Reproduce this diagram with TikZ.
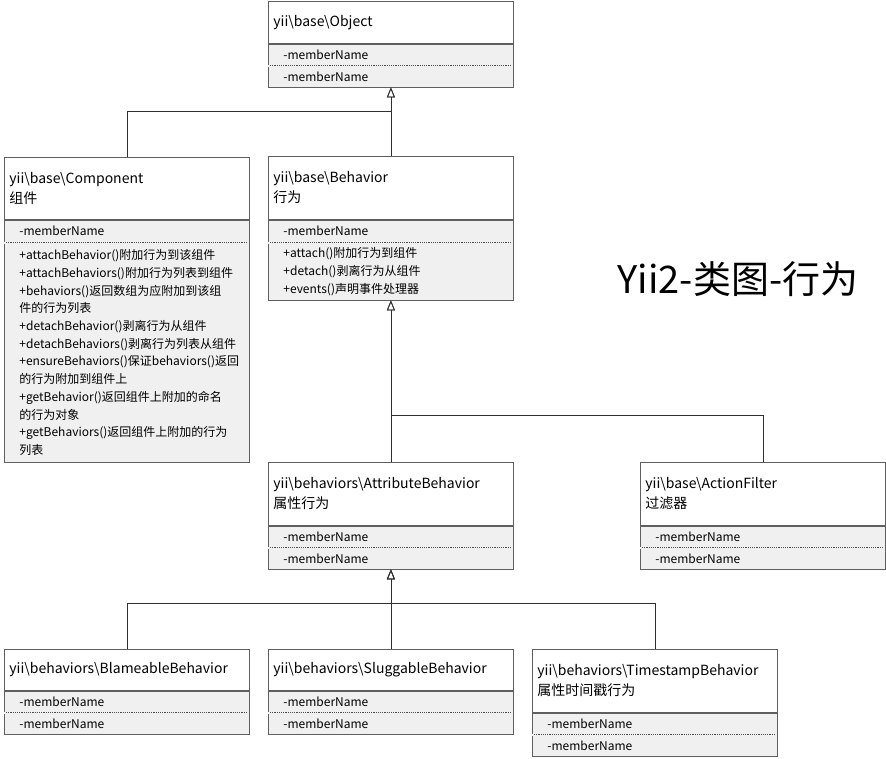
\documentclass[tikz,border=0pt]{standalone}
\usepackage{fontspec}
\setmainfont{Noto Sans CJK SC}
\usepackage{xcolor}
\usepackage{tikz}
\usetikzlibrary{calc,arrows.meta}
\definecolor{umlBorder}{HTML}{5F5F5F}
\definecolor{umlFill}{HTML}{F0F0F0}
\definecolor{umlLine}{HTML}{303030}
\newcommand{\yiiSep}{\textbackslash}
\newcommand{\member}{-memberName}
\tikzset{
	classhead/.style={draw=umlBorder, line width=.8pt, fill=white, minimum width=245pt, text width=235pt, inner xsep=5pt, inner ysep=0pt, align=left, font=\fontsize{14}{20}\selectfont},
	classattr/.style={draw=umlBorder, line width=.8pt, fill=umlFill, minimum width=245pt, minimum height=21pt, text width=215pt, inner xsep=15pt, inner ysep=0pt, align=left, font=\fontsize{12}{17.7}\selectfont},
	sepline/.style={draw=umlBorder!80!black, line width=.7pt, dash pattern=on 1.2pt off 1pt},
	inherit/.style={draw=umlLine, line width=.8pt, -{Triangle[open, width=8pt, length=10pt]}},
	titletext/.style={font=\fontsize{38}{42}\selectfont}
}

\begin{document}
\begin{tikzpicture}[x=1pt, y=-1pt]
	\useasboundingbox (0,0) rectangle (886,758);
	% classes with two plain members
	\foreach \clsName/\xCoord/\yCoord/\headH/\headText in {object/268/1/42/{yii\yiiSep{}base\yiiSep{}Object}, attribute/268/462/63/{yii\yiiSep{}behaviors\yiiSep{}AttributeBehavior\\属性行为}, filter/640/462/63/{yii\yiiSep{}base\yiiSep{}ActionFilter\\过滤器}, blameable/4/649/41/{yii\yiiSep{}behaviors\yiiSep{}BlameableBehavior}, sluggable/268/649/41/{yii\yiiSep{}behaviors\yiiSep{}SluggableBehavior}, timestamp/532/649/63/{yii\yiiSep{}behaviors\yiiSep{}TimestampBehavior\\属性时间戳行为}}
	{
		\node[classhead, minimum height=\headH pt, anchor=north west] (\clsName) at (\xCoord,\yCoord) {\headText};
		\node[classattr, anchor=north west] (\clsName-a) at (\clsName.south west) {\member};
		\node[classattr, anchor=north west] (\clsName-b) at (\clsName-a.south west) {\member};
		\fill[umlFill] ([xshift=.4pt, yshift=-1pt]\clsName-a.south west) rectangle ([xshift=-.4pt, yshift=1pt]\clsName-a.south east);
		\draw[sepline] ([xshift=2pt]\clsName-a.south west) -- ([xshift=-2pt]\clsName-a.south east);
	}
	% classes with operations
	\node[classhead, minimum height=62pt, anchor=north west] (component) at (4,157) {yii\yiiSep{}base\yiiSep{}Component\\组件};
	\node[classattr, minimum height=22pt, anchor=north west] (component-a) at (component.south west) {\member};
	\node[classattr, minimum height=219pt, anchor=north west] (component-o) at (component-a.south west) {+attachBehavior()附加行为到该组件\\+attachBehaviors()附加行为列表到组件\\+behaviors()返回数组为应附加到该组\\件的行为列表\\+detachBehavior()剥离行为从组件\\+detachBehaviors()剥离行为列表从组件\\+ensureBehaviors()保证behaviors()返回\\的行为附加到组件上\\+getBehavior()返回组件上附加的命名\\的行为对象\\+getBehaviors()返回组件上附加的行为\\列表};
	\node[classhead, minimum height=63pt, anchor=north west] (behavior) at (268,156) {yii\yiiSep{}base\yiiSep{}Behavior\\行为};
	\node[classattr, minimum height=22pt, anchor=north west] (behavior-a) at (behavior.south west) {\member};
	\node[classattr, minimum height=57pt, anchor=north west] (behavior-o) at (behavior-a.south west) {+attach()附加行为到组件\\+detach()剥离行为从组件\\+events()声明事件处理器};
	\foreach \clsName in {component, behavior}
	{
		\fill[umlFill] ([xshift=.4pt, yshift=-1pt]\clsName-a.south west) rectangle ([xshift=-.4pt, yshift=1pt]\clsName-a.south east);
		\draw[sepline] ([xshift=2pt]\clsName-a.south west) -- ([xshift=-2pt]\clsName-a.south east);
	}
	\node[titletext] (title) at (738,279) {Yii2-类图-行为};
	% inheritance
	\coordinate (objJoin) at ([yshift=-24pt]object-b.south);
	\coordinate (behJoin) at ([yshift=-115pt]behavior-o.south);
	\coordinate (attJoin) at ([yshift=-34pt]attribute-b.south);
	\draw[inherit] (component.north) |- (objJoin) -- (object-b.south);
	\draw[inherit] (behavior.north) -- (object-b.south);
	\draw[inherit] (filter.north) |- (behJoin) -- (behavior-o.south);
	\draw[inherit] (attribute.north) -- (behavior-o.south);
	\draw[inherit] (blameable.north) |- (attJoin) -- (attribute-b.south);
	\draw[inherit] (timestamp.north) |- (attJoin) -- (attribute-b.south);
	\draw[inherit] (sluggable.north) -- (attribute-b.south);
\end{tikzpicture}
\end{document}
